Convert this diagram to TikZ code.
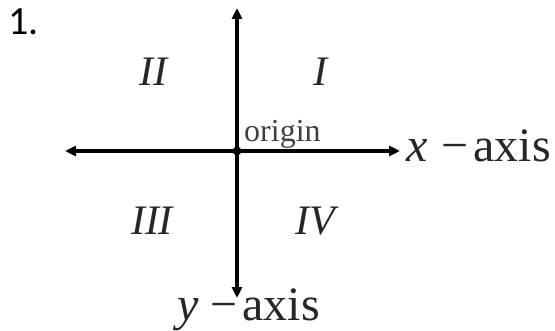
\documentclass[tikz,border=0pt]{standalone}
\usepackage{fontspec}
\setmainfont{Liberation Serif}
\newfontfamily\numfont{Carlito}
\usetikzlibrary{arrows.meta,positioning}

\begin{document}
\begin{tikzpicture}[
    x=1pt,y=1pt,
    >={Triangle[length=11pt,width=10pt]},
    axis/.style={<->,line width=3.4pt,draw=black},
    quad/.style={font=\fontsize{42}{42}\selectfont\itshape,text=black!85,inner sep=0pt},
    axislabel/.style={font=\fontsize{48}{48}\selectfont,text=black!85,inner sep=0pt,anchor=base west},
    note/.style={font=\fontsize{32}{32}\selectfont,text=black!75,inner sep=0pt,anchor=base west}
  ]
    \useasboundingbox (0,0) rectangle (555,330);
    \node[font=\numfont\fontsize{40}{40}\selectfont,inner sep=0pt,anchor=base west] (num) at (8,295) {1.};
    % axes
    \coordinate (top) at (237,322);
    \coordinate (bottom) at (237,32);
    \coordinate (left) at (65,179);
    \coordinate (right) at (400,179);
    \draw[axis] (bottom) -- (top);
    \draw[axis] (left) -- (right);
    \node[circle,fill=black,inner sep=0pt,minimum size=9pt] (o) at (237,179) {};
    \node[note] (origin) at (244,188) {origin};
    \node[axislabel] (xlab) at (406,168) {\textit{x}\hspace{14pt}−\hspace{5pt}axis};
    \node[axislabel] (ylab) at (177,10) {\textit{y}\hspace{12pt}−\hspace{5pt}axis};
    % quadrants
    \node[quad] (q1) at (320,258) {I};
    \node[quad] (q2) at (153,258) {II};
    \node[quad] (q3) at (152,109) {III};
    \node[quad] (q4) at (315,109) {IV};
  \end{tikzpicture}
\end{document}
